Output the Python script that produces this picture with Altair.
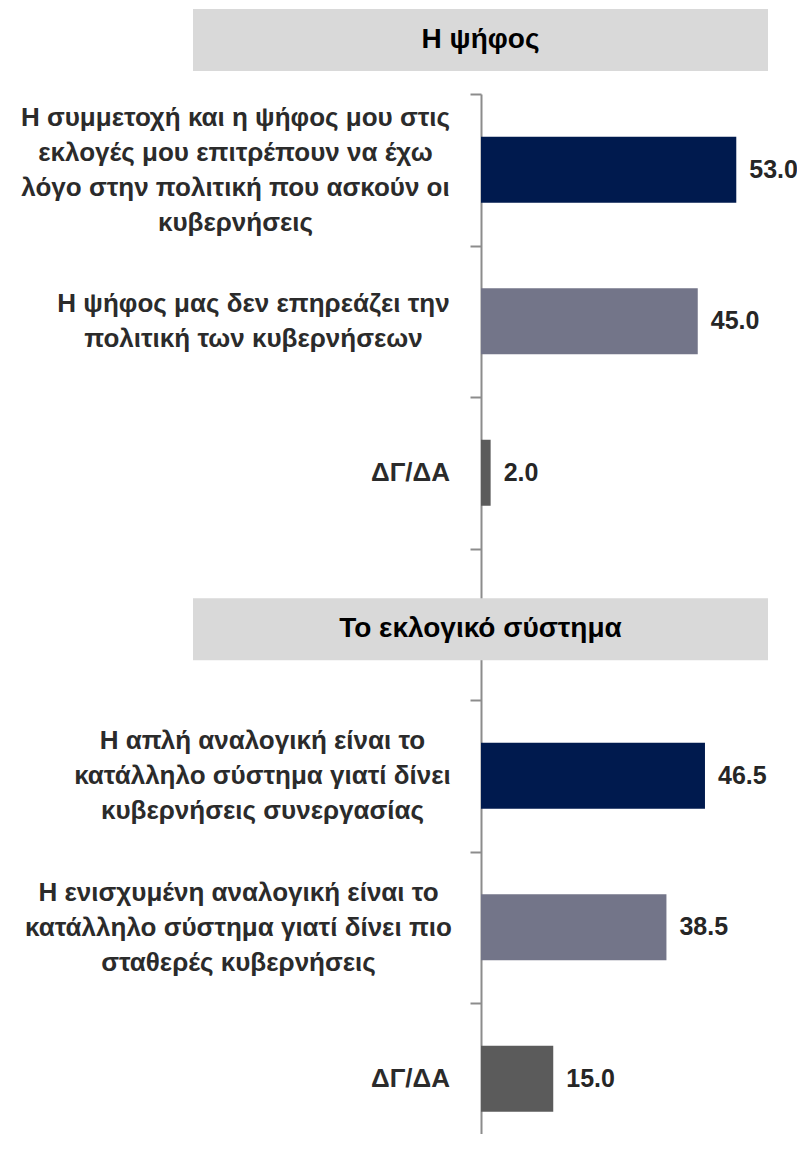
import json
import altair as alt
import pandas as pd

# ---- data ----
headers = ["Η ψήφος", "Το εκλογικό σύστημα"]
labels = [
    ["Η συμμετοχή και η ψήφος μου στις", "εκλογές μου επιτρέπουν να έχω",
     "λόγο στην πολιτική που ασκούν οι", "κυβερνήσεις"],
    ["Η ψήφος μας δεν επηρεάζει την", "πολιτική των κυβερνήσεων"],
    ["ΔΓ/ΔΑ"],
    ["Η απλή αναλογική είναι το", "κατάλληλο σύστημα γιατί δίνει",
     "κυβερνήσεις συνεργασίας"],
    ["Η ενισχυμένη αναλογική είναι το", "κατάλληλο σύστημα γιατί δίνει πιο",
     "σταθερές κυβερνήσεις"],
    ["ΔΓ/ΔΑ"],
]
values = [53.0, 45.0, 2.0, 46.5, 38.5, 15.0]
section = [0, 0, 0, 1, 1, 1]
option = [1, 2, 3, 1, 2, 3]

# ---- build tables ----
rows = [i + s for i, s in enumerate(section)]          # header row of section 2 sits at index 3
header_row = 3
n_rows = len(rows) + 1
row_labels = [[""] for _ in range(n_rows)]
for r, lab in zip(rows, labels):
    row_labels[r] = lab

df = pd.DataFrame({"row": rows, "value": values, "option": option})
hdr1 = pd.DataFrame({"h": [headers[0]]})
hdr2 = pd.DataFrame({"h": [headers[1]], "row": [header_row]})

# ---- styling ----
NAVY, SLATE, DARK = "#001A4E", "#737589", "#5B5B5B"
LABEL_FONT = "Liberation Sans"
LINE_H = 35
half_widths = {0: 215, 1: 197, 2: 40, 4: 188, 5: 212, 6: 40}
label_pad = {
    "condition": [{"test": f"datum.value === {r}", "value": hw + 20} for r, hw in half_widths.items()],
    "value": 20,
}
label_off = {
    "condition": [{"test": f"datum.value === {r}", "value": -(len(row_labels[r]) - 1) * LINE_H / 2}
                  for r in range(n_rows) if len(row_labels[r]) > 1],
    "value": 0,
}

label_expr = json.dumps(row_labels, ensure_ascii=False) + "[datum.value]"

y_enc = alt.Y(
    "row:O",
    scale=alt.Scale(domain=list(range(n_rows)), range=[0, 1060.5], paddingInner=0, paddingOuter=0),
    axis=alt.Axis(
        title=None, grid=False, tickBand="extent", tickSize=11, tickWidth=2, tickColor="#8C8C8C",
        domainColor="#8C8C8C", domainWidth=2, labelExpr=label_expr, labelAlign="center",
        labelBaseline="middle", labelFont=LABEL_FONT, labelFontSize=26, labelFontWeight="bold",
        labelColor="#2B2B2B", labelLineHeight=LINE_H, labelLimit=2000, labelPadding=label_pad,
        labelOffset=label_off, labelOverlap=False,
    ),
)
x_enc = alt.X("value:Q", scale=alt.Scale(domain=[0, 60]), axis=None)

bars = alt.Chart(df).mark_bar(size=66).encode(
    x=x_enc, y=y_enc,
    color=alt.Color("option:N", scale=alt.Scale(domain=[1, 2, 3], range=[NAVY, SLATE, DARK]), legend=None),
)
vals = alt.Chart(df).mark_text(
    align="left", baseline="middle", dx=13, font=LABEL_FONT, fontSize=25, fontWeight="bold", color="#262626"
).encode(x=x_enc, y=y_enc, text=alt.Text("value:Q", format=".1f"))

h2_rect = alt.Chart(hdr2).mark_bar(size=62, yOffset=5, color="#D9D9D9").encode(
    x=alt.value(-288), x2=alt.value(287), y=y_enc
)
h2_text = alt.Chart(hdr2).mark_text(
    align="center", baseline="middle", yOffset=5, font=LABEL_FONT, fontSize=28, fontWeight="bold", color="#000000"
).encode(x=alt.value(-0.5), y=y_enc, text="h:N")

h1_rect = alt.Chart(hdr1).mark_rect(color="#D9D9D9").encode(
    x=alt.value(-288), x2=alt.value(287), y=alt.value(-85), y2=alt.value(-23)
)
h1_text = alt.Chart(hdr1).mark_text(
    align="center", baseline="middle", font=LABEL_FONT, fontSize=28, fontWeight="bold", color="#000000"
).encode(x=alt.value(-0.5), y=alt.value(-54), text="h:N")

chart = alt.layer(bars, vals, h2_rect, h2_text, h1_rect, h1_text).properties(
    width=289, height=1040,
    autosize=alt.AutoSizeParams(type="none"),
    padding={"left": 473, "top": 86, "right": 27, "bottom": 0},
).configure_view(stroke=None)

chart.save("out.html", embed_options={"renderer": "svg", "actions": False})
